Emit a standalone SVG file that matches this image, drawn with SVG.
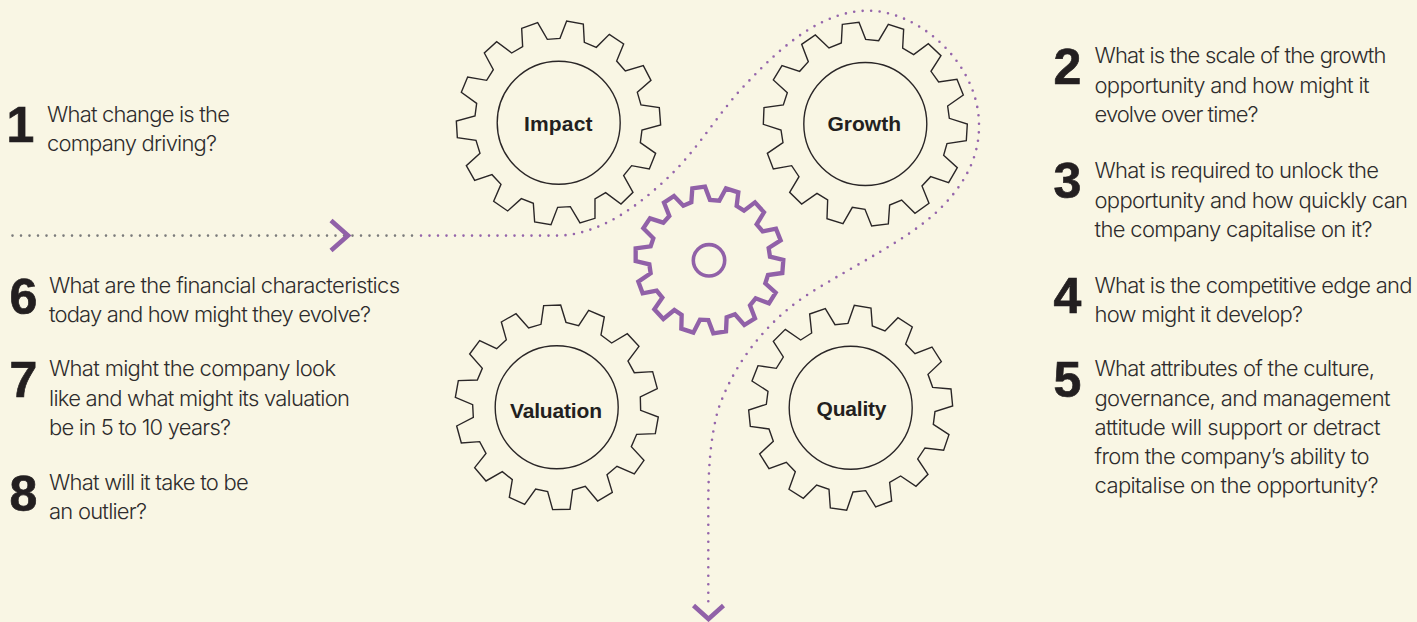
<svg xmlns="http://www.w3.org/2000/svg" width="1417" height="622" viewBox="0 0 1417 622">
<style>
.gear{fill:none;stroke:#2a2627;stroke-width:4.2;stroke-linejoin:miter}
.hub{fill:none;stroke:#2a2627;stroke-width:1.4}
.lbl{font-family:"Liberation Sans",Arial,sans-serif;font-weight:700;font-size:21px;fill:#231f20}
.num{font-family:"Liberation Sans",Arial,sans-serif;font-weight:700;font-size:50px;fill:#231f20;stroke:#231f20;stroke-width:.7}
.q{font-family:Inter,"Liberation Sans",sans-serif;font-weight:300;font-size:22px;fill:#2e2c2c}
.dots{fill:none;stroke-width:2.6;stroke-linecap:round;stroke-dasharray:0 8.5}
.chev{fill:none;stroke:#9161a8;stroke-width:4.6}
</style>
<rect width="1417" height="622" fill="#f9f6e4"/>
<g id="connectors">
<path class="dots" stroke="#7b7b7b" d="M12.5 235.6H413"/>
<path class="dots" stroke="#9565ab" d="M421 235.6H556C600 235.6 640 205 672.7 173C700 146 722 108 747 83C785 42 825 10.7 868 10.7C920 10.7 980 65 979 126.7C979 160 962 188 936.7 212C905 241 860 262 811.7 292C770 318 735 360 718 410C710 440 708.3 470 708.3 506V604"/>
<path class="chev" d="M331 220.5L348 235.6L331 250.5"/>
<path class="chev" d="M693.5 605.5L708.5 619L723.5 605.5"/>
</g>
<g id="gear-impact">
<polygon class="gear" transform="translate(440 0) scale(.3333)" points="245,85 293,68 322,118 360,115 380,63 430,72 433,127 469,142 508,103 551,132 530,183 556,213 610,197 633,241 592,277 603,315 658,323 662,375 606,390 601,428 647,460 628,507 575,497 551,527 579,577 543,612 497,578 465,597 465,655 420,669 391,620 353,622 333,674 284,666 280,610 244,596 203,633 161,604 183,553 156,524 104,541 79,497 120,460 108,421 52,413 49,363 105,348 110,310 64,277 83,231 140,241 160,209 133,159 170,125 215,159 248,140"/>
<circle class="hub" cx="558.7" cy="122.7" r="61.5"/>
<text class="lbl" x="524" y="130.7" textLength="68.5">Impact</text>
</g>
<g id="gear-growth">
<polygon class="gear" transform="translate(745 0) scale(.3333)" points="292,73 342,67 362,118 401,122 430,73 476,88 473,144 506,164 550,131 588,167 558,214 581,246 636,238 655,285 608,318 613,355 667,372 664,422 606,431 596,466 637,503 611,548 557,530 531,558 552,610 510,640 470,600 434,615 430,672 380,678 360,628 322,622 294,671 246,656 248,600 216,580 170,612 134,577 162,530 140,497 85,507 67,460 114,428 108,390 55,373 57,323 115,315 127,278 85,240 111,197 164,214 190,185 170,133 211,105 252,144 289,129"/>
<circle class="hub" cx="865.3" cy="124" r="61.5"/>
<text class="lbl" x="827.5" y="130.5" textLength="73.5">Growth</text>
</g>
<g id="gear-valuation">
<polygon class="gear" transform="translate(440 290) scale(.3333)" points="311,47 362,45 378,97 416,107 446,61 493,81 483,135 515,159 562,131 597,169 564,213 583,248 638,245 652,296 601,321 602,361 655,381 646,431 590,433 574,470 612,511 583,552 531,529 501,554 517,607 473,633 436,589 398,600 390,658 338,659 323,605 287,597 254,643 208,622 217,569 187,545 138,573 104,533 138,490 119,455 64,459 50,408 100,382 98,344 46,322 55,272 112,270 127,235 89,192 119,152 170,176 199,149 184,96 228,71 266,114 303,103"/>
<circle class="hub" cx="556.7" cy="407.3" r="61.5"/>
<text class="lbl" x="510" y="417.7" textLength="92">Valuation</text>
</g>
<g id="gear-quality">
<polygon class="gear" transform="translate(735 290) scale(.3333)" points="224,72 271,56 300,104 339,100 358,46 408,54 412,108 450,123 489,83 532,111 512,162 540,191 591,171 619,215 579,253 593,292 648,297 653,348 600,365 595,403 642,434 626,481 570,474 548,507 579,553 543,589 497,558 464,577 470,633 422,651 392,602 354,606 335,661 286,654 282,598 245,585 205,625 162,598 181,545 154,517 102,536 74,492 115,454 102,417 46,409 41,360 94,343 99,304 51,273 69,227 124,235 145,201 115,154 151,118 197,150 230,129"/>
<circle class="hub" cx="850.7" cy="407.7" r="61.5"/>
<text class="lbl" x="816.5" y="415.7" textLength="70">Quality</text>
</g>
<g id="gear-centre">
<polygon fill="none" stroke="#9161a8" stroke-width="13" transform="translate(620 170) scale(.3333)" points="217,55 255,50 270,90 298,92 318,55 355,67 350,108 372,122 405,97 432,127 410,163 428,184 468,176 482,211 446,234 450,260 490,270 487,309 444,315 436,340 467,368 447,400 407,385 390,406 405,445 373,465 345,433 320,442 318,484 280,490 265,450 240,449 220,488 184,476 185,435 163,420 130,447 103,418 127,383 110,362 68,370 55,335 92,310 88,283 47,273 47,235 92,229 100,205 70,175 90,145 130,158 148,138 132,98 162,78 190,107 214,97"/>
<circle cx="709" cy="260.3" r="15.7" fill="none" stroke="#9161a8" stroke-width="3.6"/>
</g>
<g id="q1"><text class="num" x="6.5" y="142">1</text>
<text class="q" x="47" y="122.3" textLength="183">What change is the</text>
<text class="q" x="47" y="151" textLength="170">company driving?</text></g>
<g id="q2"><text class="num" x="1053.5" y="84">2</text>
<text class="q" x="1094.5" y="62.7" textLength="292">What is the scale of the growth</text>
<text class="q" x="1094.5" y="92.7" textLength="275">opportunity and how might it</text>
<text class="q" x="1094.5" y="121.7" textLength="164">evolve over time?</text></g>
<g id="q3"><text class="num" x="1053.5" y="198">3</text>
<text class="q" x="1094.5" y="178.3" textLength="284.5">What is required to unlock the</text>
<text class="q" x="1094.5" y="207.7" textLength="313.5">opportunity and how quickly can</text>
<text class="q" x="1094.5" y="236.7" textLength="278">the company capitalise on it?</text></g>
<g id="q4"><text class="num" x="1053.5" y="313">4</text>
<text class="q" x="1094.5" y="292.7" textLength="318">What is the competitive edge and</text>
<text class="q" x="1094.5" y="322" textLength="208.5">how might it develop?</text></g>
<g id="q5"><text class="num" x="1053.5" y="396.7">5</text>
<text class="q" x="1094.5" y="376" textLength="280.5">What attributes of the culture,</text>
<text class="q" x="1094.5" y="405.7" textLength="296">governance, and management</text>
<text class="q" x="1094.5" y="434.7" textLength="286">attitude will support or detract</text>
<text class="q" x="1094.5" y="464" textLength="275">from the company’s ability to</text>
<text class="q" x="1094.5" y="493.3" textLength="284">capitalise on the opportunity?</text></g>
<g id="q6"><text class="num" x="9.5" y="314">6</text>
<text class="q" x="49" y="292.7" textLength="351">What are the financial characteristics</text>
<text class="q" x="49" y="322" textLength="322">today and how might they evolve?</text></g>
<g id="q7"><text class="num" x="9.5" y="396.7">7</text>
<text class="q" x="49" y="376" textLength="287">What might the company look</text>
<text class="q" x="49" y="405.7" textLength="301">like and what might its valuation</text>
<text class="q" x="49" y="434.7" textLength="182">be in 5 to 10 years?</text></g>
<g id="q8"><text class="num" x="9.5" y="510.7">8</text>
<text class="q" x="49" y="489.7" textLength="199.7">What will it take to be</text>
<text class="q" x="49" y="518.7" textLength="98">an outlier?</text></g>
</svg>
